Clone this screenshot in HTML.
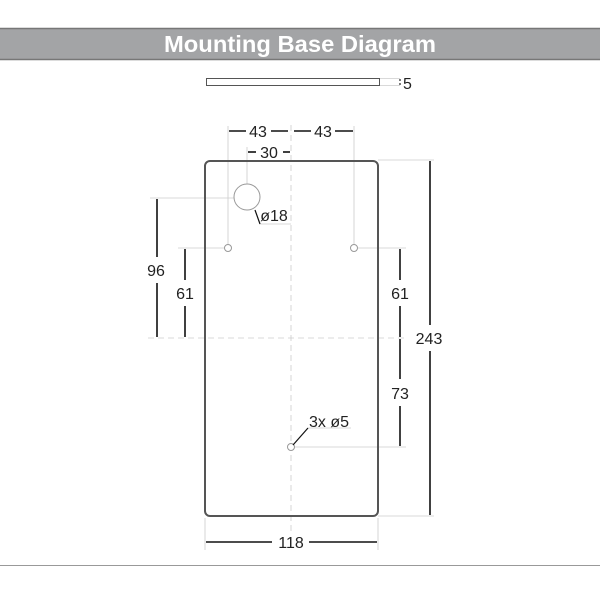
<!DOCTYPE html>
<html><head><style>
html,body{margin:0;padding:0;background:#fff;}
svg{display:block;}
text{font-family:"Liberation Sans",sans-serif;}
</style></head><body>
<svg width="600" height="600" viewBox="0 0 600 600" xmlns="http://www.w3.org/2000/svg">
<rect x="0" y="28" width="600" height="32" fill="#a3a4a6"/>
<line x1="0" y1="28.5" x2="600" y2="28.5" stroke="#777" stroke-width="1.5"/>
<line x1="0" y1="59.5" x2="600" y2="59.5" stroke="#777" stroke-width="1.5"/>
<text x="300" y="52" text-anchor="middle" font-size="23" font-weight="bold" fill="#fff" textLength="272" lengthAdjust="spacingAndGlyphs">Mounting Base Diagram</text>
<line x1="0" y1="565.5" x2="600" y2="565.5" stroke="#999" stroke-width="1"/>

<rect x="206.5" y="78.5" width="173" height="7" fill="#fff" stroke="#555" stroke-width="1"/>
<line x1="380" y1="78.5" x2="400" y2="78.5" stroke="#ccc" stroke-width="0.7"/>
<line x1="380" y1="85.5" x2="400" y2="85.5" stroke="#ccc" stroke-width="0.7"/>
<line x1="400" y1="79" x2="400" y2="81" stroke="#222" stroke-width="1.2"/>
<line x1="400" y1="83" x2="400" y2="85" stroke="#222" stroke-width="1.2"/>
<text x="403" y="89" font-size="16" fill="#222">5</text>

<g stroke="#ccc" stroke-width="0.8" fill="none">
<line x1="291" y1="125" x2="291" y2="532" stroke-dasharray="6,4"/>
<line x1="148" y1="338" x2="407" y2="338" stroke-dasharray="6,4"/>
<line x1="228" y1="126" x2="228" y2="245"/>
<line x1="354" y1="126" x2="354" y2="245"/>
<line x1="247" y1="147" x2="247" y2="197"/>
<line x1="150" y1="198" x2="247" y2="198"/>
<line x1="178" y1="248" x2="225" y2="248"/>
<line x1="357" y1="248" x2="406" y2="248"/>
<line x1="294" y1="447" x2="406" y2="447"/>
<line x1="378" y1="160" x2="434" y2="160"/>
<line x1="378" y1="516" x2="434" y2="516"/>
<line x1="205" y1="518" x2="205" y2="550"/>
<line x1="378" y1="518" x2="378" y2="550"/>
<line x1="260" y1="224" x2="291" y2="224"/>
<line x1="308" y1="428" x2="351" y2="428"/>
</g>

<rect x="205" y="161" width="173" height="355" rx="5" fill="none" stroke="#555" stroke-width="2"/>
<circle cx="247" cy="197" r="13" fill="#fff" stroke="#999" stroke-width="1"/>
<g fill="#fff" stroke="#999" stroke-width="1">
<circle cx="228" cy="248" r="3.5"/>
<circle cx="354" cy="248" r="3.5"/>
<circle cx="291" cy="447" r="3.5"/>
</g>

<g stroke="#111" stroke-width="1.6">
<line x1="229" y1="131" x2="246" y2="131"/><line x1="271" y1="131" x2="288" y2="131"/>
<line x1="294" y1="131" x2="311" y2="131"/><line x1="335" y1="131" x2="353" y2="131"/>
<line x1="248" y1="152" x2="256" y2="152"/><line x1="283" y1="152" x2="290" y2="152"/>
<line x1="157" y1="199" x2="157" y2="257"/><line x1="157" y1="283" x2="157" y2="337"/>
<line x1="185" y1="249" x2="185" y2="280"/><line x1="185" y1="306" x2="185" y2="337"/>
<line x1="400" y1="249" x2="400" y2="280"/><line x1="400" y1="306" x2="400" y2="337"/>
<line x1="400" y1="339" x2="400" y2="379"/><line x1="400" y1="406" x2="400" y2="446"/>
<line x1="430" y1="161" x2="430" y2="325"/><line x1="430" y1="351" x2="430" y2="515"/>
<line x1="206" y1="542" x2="272" y2="542"/><line x1="309" y1="542" x2="377" y2="542"/>
<line x1="255" y1="210" x2="260" y2="224" stroke-width="1.2"/>
<line x1="293" y1="445" x2="308" y2="428" stroke-width="1.2"/>
</g>

<g font-size="16" fill="#222" text-anchor="middle">
<text x="258" y="137">43</text>
<text x="323" y="137">43</text>
<text x="269" y="158">30</text>
<text x="274" y="221">ø18</text>
<text x="156" y="276">96</text>
<text x="185" y="299">61</text>
<text x="400" y="299">61</text>
<text x="400" y="399">73</text>
<text x="429" y="344">243</text>
<text x="291" y="548">118</text>
<text x="329" y="427">3x ø5</text>
</g>
</svg>
</body></html>
